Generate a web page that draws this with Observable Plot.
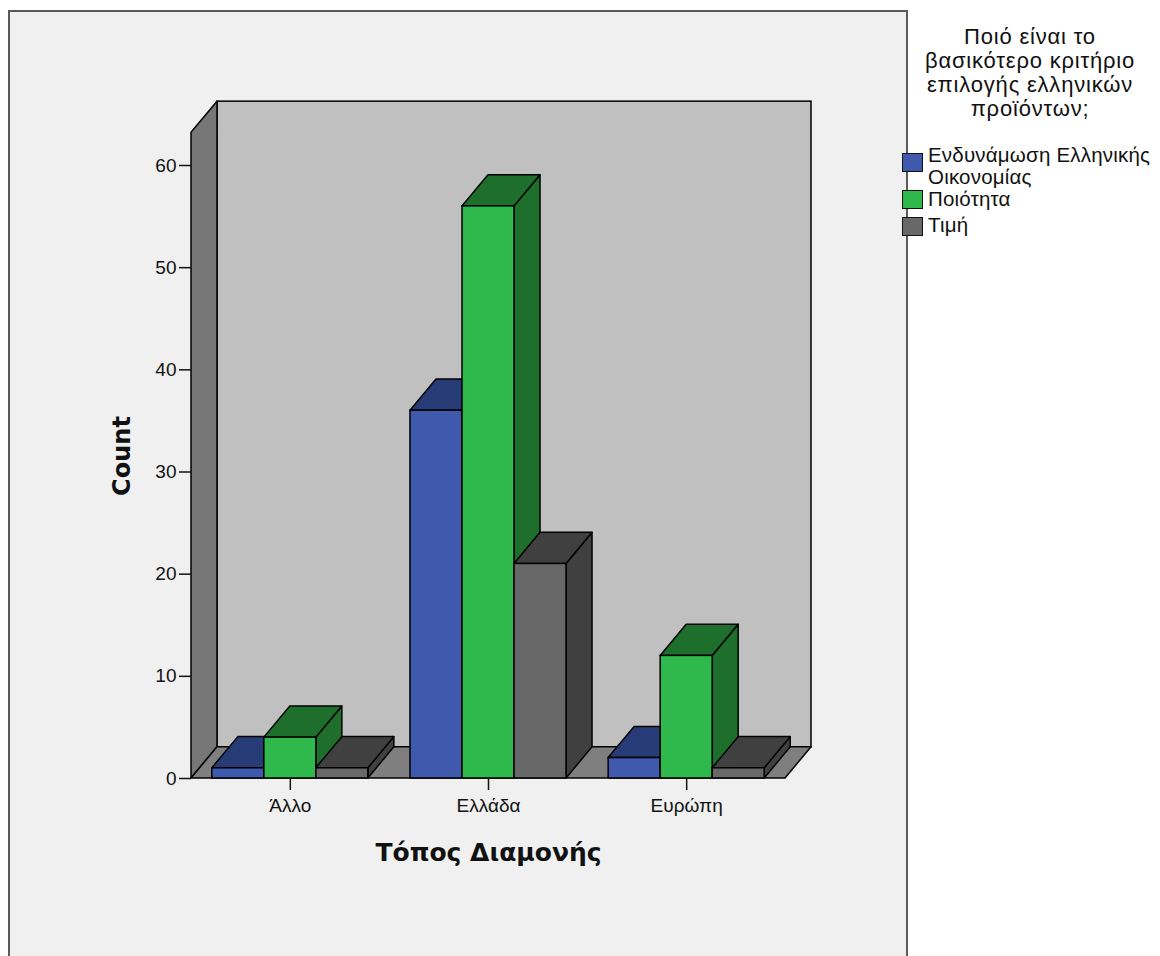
<!DOCTYPE html>
<html>
<head>
<meta charset="utf-8">
<script src="https://cdn.jsdelivr.net/npm/d3@7"></script>
<script src="https://cdn.jsdelivr.net/npm/@observablehq/plot@0.6"></script>
<style>
  html, body { margin: 0; padding: 0; background: #ffffff; }
  body { width: 1160px; height: 956px; position: relative; overflow: hidden; font-family: "Liberation Sans", Arial, sans-serif; }
  #panel { position: absolute; left: 8px; top: 10px; width: 900px; height: 960px; background: #f0f0f0; border: 2px solid #5a5a5a; box-sizing: border-box; }
  #chart { position: absolute; left: 0; top: 0; }
  #legend { position: absolute; left: 0; top: 0; width: 1160px; height: 300px; color: #111; }
  #legend .title { position: absolute; left: 900px; top: 25px; width: 260px; text-align: center; font-size: 22px; line-height: 24px; letter-spacing: 0.8px; }
  #legend .sw { position: absolute; left: 902px; width: 21px; height: 19px; border: 1.5px solid #111; box-sizing: border-box; }
  #legend .lab { position: absolute; left: 928px; font-size: 20.5px; line-height: 22px; white-space: nowrap; letter-spacing: 0.2px; }
</style>
</head>
<body>
<div id="panel"></div>
<div id="chart"></div>
<div id="legend"></div>
<script>
// ---- data ----
const categories = ["Άλλο", "Ελλάδα", "Ευρώπη"];
const seriesNames = ["Ενδυνάμωση Ελληνικής Οικονομίας", "Ποιότητα", "Τιμή"];
const economy = [1, 36, 2];
const quality = [4, 56, 12];
const price = [1, 21, 1];
const yTicks = [0, 10, 20, 30, 40, 50, 60];
const legendTitle = ["Ποιό είναι το", "βασικότερο κριτήριο", "επιλογής ελληνικών", "προϊόντων;"];

// ---- styling ----
const frontColors = ["#3f5aad", "#2fb84b", "#686868"];
const darkColors = ["#273c76", "#1d6f2b", "#404040"];
const values = [economy, quality, price];

// ---- layout (in scale units: one bar = 1 x unit) ----
const PAD = 0.4, GROUP_STEP = 3.81, DX = 0.5, DY = 3.05, WALL = 63.2;
const XMAX = PAD * 2 + GROUP_STEP * (categories.length - 1) + seriesNames.length;
const groupStart = i => PAD + i * GROUP_STEP;
const centers = categories.map((c, i) => groupStart(i) + seriesNames.length / 2);

const bars = [];
categories.forEach((c, i) => {
  values.forEach((arr, j) => {
    const x0 = groupStart(i) + j;
    bars.push({cat: c, s: j, id: i + "-" + j, x0, x1: x0 + 1, v: arr[i]});
  });
});

const sideMarks = [], topMarks = [], frontMarks = [];
seriesNames.forEach((name, j) => {
  const b = bars.filter(d => d.s === j);
  const sidePts = b.flatMap(d => [
    {id: d.id, x: d.x1, y1: 0, y2: d.v},
    {id: d.id, x: d.x1 + DX, y1: DY, y2: d.v + DY}
  ]);
  const topPts = b.flatMap(d => [
    {id: d.id, y: d.v, x1: d.x0, x2: d.x1},
    {id: d.id, y: d.v + DY, x1: d.x0 + DX, x2: d.x1 + DX}
  ]);
  sideMarks.push(Plot.areaY(sidePts, {x: "x", y1: "y1", y2: "y2", z: "id", fill: darkColors[j], stroke: "#000", strokeWidth: 1.5, strokeLinejoin: "round"}));
  topMarks.push(Plot.areaX(topPts, {y: "y", x1: "x1", x2: "x2", z: "id", fill: darkColors[j], stroke: "#000", strokeWidth: 1.5, strokeLinejoin: "round"}));
  frontMarks.push(Plot.rect(b, {x1: "x0", x2: "x1", y1: () => 0, y2: "v", fill: frontColors[j], stroke: "#000", strokeWidth: 1.5}));
});

const chart = Plot.plot({
  width: 907,
  height: 956,
  marginLeft: 191,
  marginRight: 122,
  marginTop: 165,
  marginBottom: 178,
  style: {background: "transparent", overflow: "visible", fontFamily: "'Liberation Sans', Arial, sans-serif", color: "#111"},
  x: {domain: [0, XMAX]},
  y: {domain: [0, 60]},
  marks: [
    // back wall
    Plot.rect([{}], {x1: () => DX, x2: () => XMAX + DX, y1: () => DY, y2: () => WALL + DY, fill: "#c0c0c0", stroke: "#000", strokeWidth: 1.5}),
    // left wall
    Plot.areaY([{x: 0, y1: 0, y2: WALL}, {x: DX, y1: DY, y2: WALL + DY}], {x: "x", y1: "y1", y2: "y2", fill: "#777777", stroke: "#000", strokeWidth: 1.5}),
    // floor
    Plot.areaX([{y: 0, x1: 0, x2: XMAX}, {y: DY, x1: DX, x2: XMAX + DX}], {y: "y", x1: "x1", x2: "x2", fill: "#7f7f7f", stroke: "#000", strokeWidth: 1.5}),
    ...sideMarks,
    ...topMarks,
    ...frontMarks,
    Plot.axisY({ticks: yTicks, tickSize: 12, tickPadding: 3, fontSize: 19, label: null, strokeWidth: 1.5}),
    Plot.axisX({ticks: centers, tickFormat: d => categories[centers.indexOf(d)], tickSize: 12, tickPadding: 8, fontSize: 19, label: null, strokeWidth: 1.5}),
    Plot.text(["Count"], {frameAnchor: "left", textAnchor: "middle", lineAnchor: "middle", dx: -69, dy: -16, rotate: -90, fontSize: 24, fontWeight: "bold", fontFamily: "'DejaVu Sans', sans-serif", text: d => d}),
    Plot.text(["Τόπος Διαμονής"], {frameAnchor: "bottom", textAnchor: "middle", lineAnchor: "middle", dy: 74, fontSize: 25, fontWeight: "bold", fontFamily: "'DejaVu Sans', sans-serif", text: d => d})
  ]
});
document.getElementById("chart").appendChild(chart);

// ---- legend ----
const legend = document.getElementById("legend");
const t = document.createElement("div");
t.className = "title";
t.innerHTML = legendTitle.join("<br>");
legend.appendChild(t);
const swatchTops = [153, 190, 217];
const labelTops = [144, 188, 214];
seriesNames.forEach((name, j) => {
  const sw = document.createElement("div");
  sw.className = "sw";
  sw.style.top = swatchTops[j] + "px";
  sw.style.background = frontColors[j];
  legend.appendChild(sw);
  const lab = document.createElement("div");
  lab.className = "lab";
  lab.style.top = labelTops[j] + "px";
  lab.innerHTML = j === 0 ? "Ενδυνάμωση Ελληνικής<br>Οικονομίας" : name;
  legend.appendChild(lab);
});
</script>
</body>
</html>
